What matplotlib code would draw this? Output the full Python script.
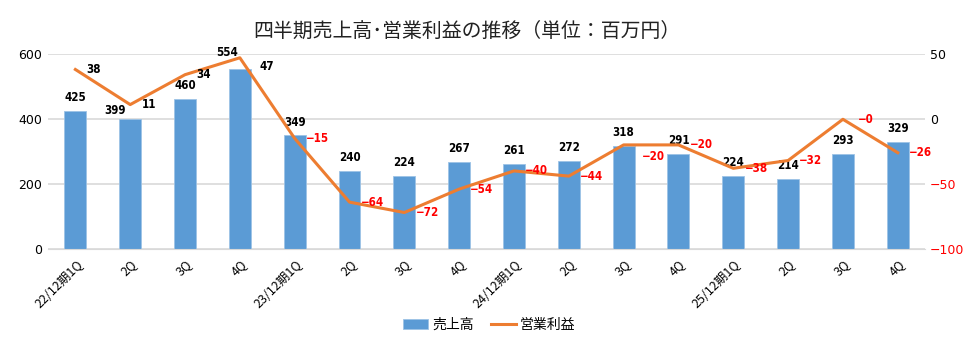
import numpy as np
import matplotlib
matplotlib.use("Agg")
import matplotlib.pyplot as plt

plt.rcParams["font.family"] = ["Noto Sans CJK JP", "DejaVu Sans"]

# データ
quarters = ["22/12期1Q", "2Q", "3Q", "4Q",
            "23/12期1Q", "2Q", "3Q", "4Q",
            "24/12期1Q", "2Q", "3Q", "4Q",
            "25/12期1Q", "2Q", "3Q", "4Q"]
sales = [425, 399, 460, 554, 349, 240, 224, 267, 261, 272, 318, 291, 224, 214, 293, 329]
op_profit = [38, 11, 34, 47, -15, -64, -72, -54, -40, -44, -20, -20, -38, -32, -0.3, -26]

BLUE = "#5B9BD5"
ORANGE = "#ED7D31"
GRID = "#D9D9D9"

# 手で少しずらしたラベル (元グラフに合わせる)
sales_label_shift = {1: (-11, 1.5), 3: (-9, 7)}
profit_label_shift = {3: (14, -6.5), 10: (13, -8.5), 14: (11, 0)}


def fmt(v):
    s = f"{v:.0f}"
    if v < 0:
        s = "−" + s.lstrip("-")
    return s


fig = plt.figure(figsize=(9.79, 3.41), dpi=100)
ax = fig.add_axes([0.049, 0.270, 0.896, 0.572])
ax2 = ax.twinx()

x = np.arange(len(quarters))
ax.bar(x, sales, width=0.4, color=BLUE, edgecolor="#9DC3E6", linewidth=0.6, zorder=2,
       label="売上高")
ax2.plot(x, op_profit, color=ORANGE, linewidth=2.2, zorder=3, label="営業利益")

ax.set_ylim(0, 600)
ax.set_yticks([0, 200, 400, 600])
ax2.set_ylim(-100, 50)
ax2.set_yticks([-100, -50, 0, 50])
ax.set_xlim(-0.5, len(quarters) - 0.5)

ax.yaxis.grid(True, color=GRID, linewidth=1.2, zorder=0)
ax.set_axisbelow(True)
for a in (ax, ax2):
    for sp in a.spines.values():
        sp.set_visible(False)
    a.tick_params(length=0)
ax.spines["bottom"].set_visible(True)
ax.spines["bottom"].set_color(GRID)

ax.set_yticklabels(["0", "200", "400", "600"], fontsize=9, family="DejaVu Sans")
ax2.set_yticklabels([fmt(t) for t in [-100, -50, 0, 50]], fontsize=9, family="DejaVu Sans")
for lbl, t in zip(ax2.get_yticklabels(), [-100, -50, 0, 50]):
    lbl.set_color("red" if t < 0 else "black")

ax.set_xticks(x)
ax.set_xticklabels(quarters, rotation=45, ha="right", rotation_mode="anchor", fontsize=9)
ax.tick_params(axis="x", pad=6)
ax.tick_params(axis="y", pad=4)

# 売上高ラベル
for i, (xi, v) in enumerate(zip(x, sales)):
    ax.annotate(f"{v}", xy=(xi, v), xytext=sales_label_shift.get(i, (0, 5)),
                textcoords="offset points", ha="center", va="bottom",
                fontsize=8.3, fontweight="bold", fontstretch="condensed",
                family="DejaVu Sans", color="black", zorder=5)

# 営業利益ラベル
for i, (xi, v) in enumerate(zip(x, op_profit)):
    ax2.annotate(fmt(v), xy=(xi, v), xytext=profit_label_shift.get(i, (8, 0)),
                 textcoords="offset points", ha="left", va="center",
                 fontsize=8.3, fontweight="bold", fontstretch="condensed",
                 family="DejaVu Sans", color="red" if v < 0 else "black", zorder=5)

fig.text(0.477, 0.907, "四半期売上高･営業利益の推移（単位：百万円）",
         ha="center", va="center", fontsize=14.3, color="#222222")

h1, l1 = ax.get_legend_handles_labels()
h2, l2 = ax2.get_legend_handles_labels()
fig.legend(h1 + h2, l1 + l2, loc="lower center", bbox_to_anchor=(0.5, -0.01),
           ncol=2, frameon=False, fontsize=10, handlelength=1.8, columnspacing=1.2,
           handletextpad=0.3)

plt.savefig("out.png", dpi=100, facecolor="white")
